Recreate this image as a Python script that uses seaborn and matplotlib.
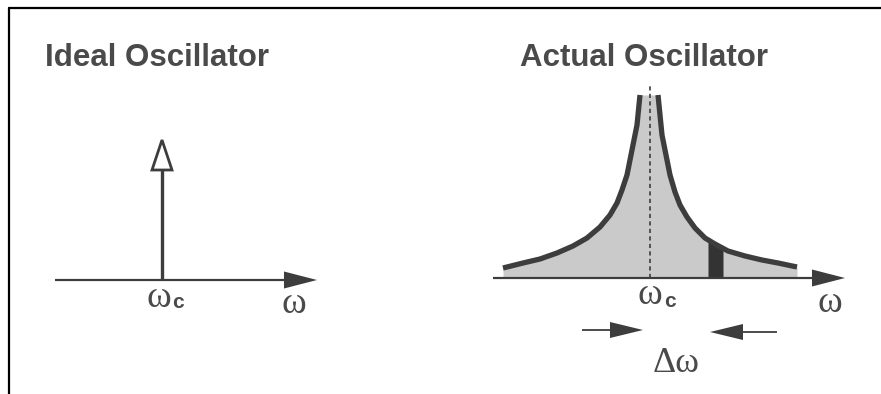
import numpy as np
import matplotlib
matplotlib.use("Agg")
import matplotlib.pyplot as plt
from matplotlib.lines import Line2D
import seaborn as sns

sns.set_theme(style="white")
plt.rcParams['font.family'] = ['Liberation Sans', 'DejaVu Sans']

# Spectrum of the real oscillator: offset from ωc and height above the ω axis
left_offset = [-147, -127, -110, -93, -77, -63, -50, -40, -33, -28, -23, -20, -17, -13, -11, -10]
left_height = [10, 15, 19, 25, 32, 40, 51, 63, 75, 88, 103, 118, 133, 153, 173, 183]
right_offset = [8, 10, 12, 16, 20, 25, 30, 37, 45, 55, 65, 78, 95, 112, 128, 147]
right_height = [183, 163, 143, 123, 103, 86, 73, 61, 50, 40, 34, 27, 22, 18, 15, 11]
band_offset = [58, 73]          # the Δω slice
impulse_height = 140            # ideal oscillator: a single line at ωc

titles = ["Ideal Oscillator", "Actual Oscillator"]

INK = "#3d3d3d"
TEXT = "#4a4a4a"
FILL = "#cacaca"

W, H = 881, 394
fig = plt.figure(figsize=(W / 100, H / 100), dpi=100)
fig.patch.set_facecolor("white")


def panel(center_px, base_px):
    """Axes spanning the figure, 1 unit = 1 px, origin at (ωc, axis)."""
    ax = fig.add_axes([0, 0, 1, 1])
    ax.set_xlim(-center_px, W - center_px)
    ax.set_ylim(base_px - H, base_px)
    ax.set_axis_off()
    ax.patch.set_alpha(0)
    return ax


ax_i = panel(162, 280)
ax_a = panel(650, 278)

arrow_kw = dict(length_includes_head=True, fc=INK, ec=INK, lw=0)
line_kw = dict(sort=False, estimator=None, solid_capstyle="butt")

# ---- ideal oscillator ----
ax_i.arrow(-107, 0, 262, 0, width=2.2, head_width=17, head_length=33, **arrow_kw)
sns.lineplot(x=[0, 0], y=[0, impulse_height - 30], ax=ax_i, color=INK, lw=2.4, **line_kw)
ax_i.fill([-10, 10, 0], [impulse_height - 30, impulse_height - 30, impulse_height],
          fc="white", ec=INK, lw=2.0, joinstyle="miter")

ax_i.text(-3, -27, "ω", ha="center", va="baseline", family="Liberation Serif",
          size=27, color=TEXT)
ax_i.text(16, -28, "c", ha="center", va="baseline", size=15, weight="bold", color=TEXT)
ax_i.text(132, -33, "ω", ha="center", va="baseline", family="Liberation Serif",
          size=27, color=TEXT)

# ---- actual oscillator ----
curve_x = np.array(left_offset + right_offset, dtype=float)
curve_y = np.array(left_height + right_height, dtype=float)
ax_a.fill_between(curve_x, 0, curve_y, color=FILL, lw=0)

bx = np.linspace(band_offset[0], band_offset[1], 20)
ax_a.fill_between(bx, 0, np.interp(bx, curve_x, curve_y), color="#333333", lw=0)

sns.lineplot(x=left_offset, y=left_height, ax=ax_a, color=INK, lw=3.8, **line_kw)
sns.lineplot(x=right_offset, y=right_height, ax=ax_a, color=INK, lw=3.8, **line_kw)

ax_a.plot([0, 0], [0, 193], color=INK, lw=1.2, ls=(0, (2.5, 2)))
ax_a.arrow(-157, 0, 352, 0, width=2.2, head_width=17, head_length=33, **arrow_kw)

ax_a.text(0, -26, "ω", ha="center", va="baseline", family="Liberation Serif",
          size=27, color=TEXT)
ax_a.text(20, -29, "c", ha="center", va="baseline", size=15, weight="bold", color=TEXT)
ax_a.text(180, -34, "ω", ha="center", va="baseline", family="Liberation Serif",
          size=27, color=TEXT)

# Δω markers
ax_a.arrow(-68, -52, 61, 0, width=1.8, head_width=16, head_length=33, **arrow_kw)
ax_a.arrow(127, -54, -67, 0, width=1.8, head_width=16, head_length=33, **arrow_kw)
ax_a.text(26, -94, "Δω", ha="center", va="baseline", family="Liberation Serif",
          size=26, color=TEXT)

# ---- titles and frame ----
for x_px, label in zip([45, 520], titles):
    fig.text(x_px / W, 1 - 66 / H, label, ha="left", va="baseline",
             size=22.5, weight="bold", color=TEXT)

fig.add_artist(Line2D([9 / W, 1], [1 - 7.5 / H, 1 - 7.5 / H], color="black", lw=1.6,
                      transform=fig.transFigure))
fig.add_artist(Line2D([9 / W, 9 / W], [0, 1 - 7.5 / H], color="black", lw=1.6,
                      transform=fig.transFigure))

fig.savefig("out.png", dpi=100)
